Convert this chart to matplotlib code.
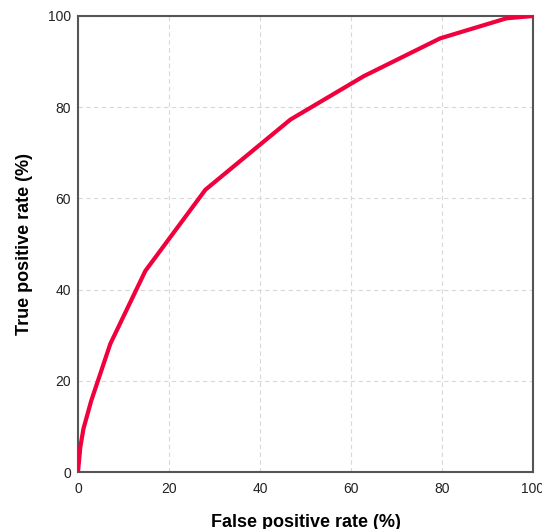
import matplotlib
matplotlib.use("Agg")
import matplotlib.pyplot as plt

# ROC curve points (percent)
fpr = [0, 0.5, 1.2, 2.9, 7.1, 14.8, 28.0, 46.7, 62.8, 79.6, 94.2, 100]
tpr = [0, 5.4, 9.5, 15.6, 28.1, 44.1, 61.9, 77.3, 86.8, 95.1, 99.5, 100]
ticks = [0, 20, 40, 60, 80, 100]

plt.rcParams['font.family'] = ['Liberation Sans', 'DejaVu Sans']

fig = plt.figure(figsize=(5.42, 5.29), dpi=100)
# axes box in pixels: x 78..533, y 16..472 (from top)
ax = fig.add_axes([78 / 542, 1 - 472 / 529, 455 / 542, 456 / 529])

ax.plot(fpr, tpr, color='#F0003C', linewidth=3, solid_joinstyle='round', zorder=3)

ax.set_xlim(0, 100)
ax.set_ylim(0, 100)
ax.set_xticks(ticks)
ax.set_yticks(ticks)
ax.tick_params(length=0, labelsize=10, colors='#222222')
ax.tick_params(axis='x', pad=7)
ax.tick_params(axis='y', pad=5)
ax.grid(True, color='#d8d8d8', linestyle=(0, (4, 3)), linewidth=0.8)

for side in ax.spines.values():
    side.set_color('#555555')
    side.set_linewidth(1.5)

ax.set_xlabel('False positive rate (%)', fontsize=13, fontweight='bold', labelpad=13)
ax.set_ylabel('True positive rate (%)', fontsize=13, fontweight='bold', labelpad=11)

fig.savefig('out.png', dpi=100)
